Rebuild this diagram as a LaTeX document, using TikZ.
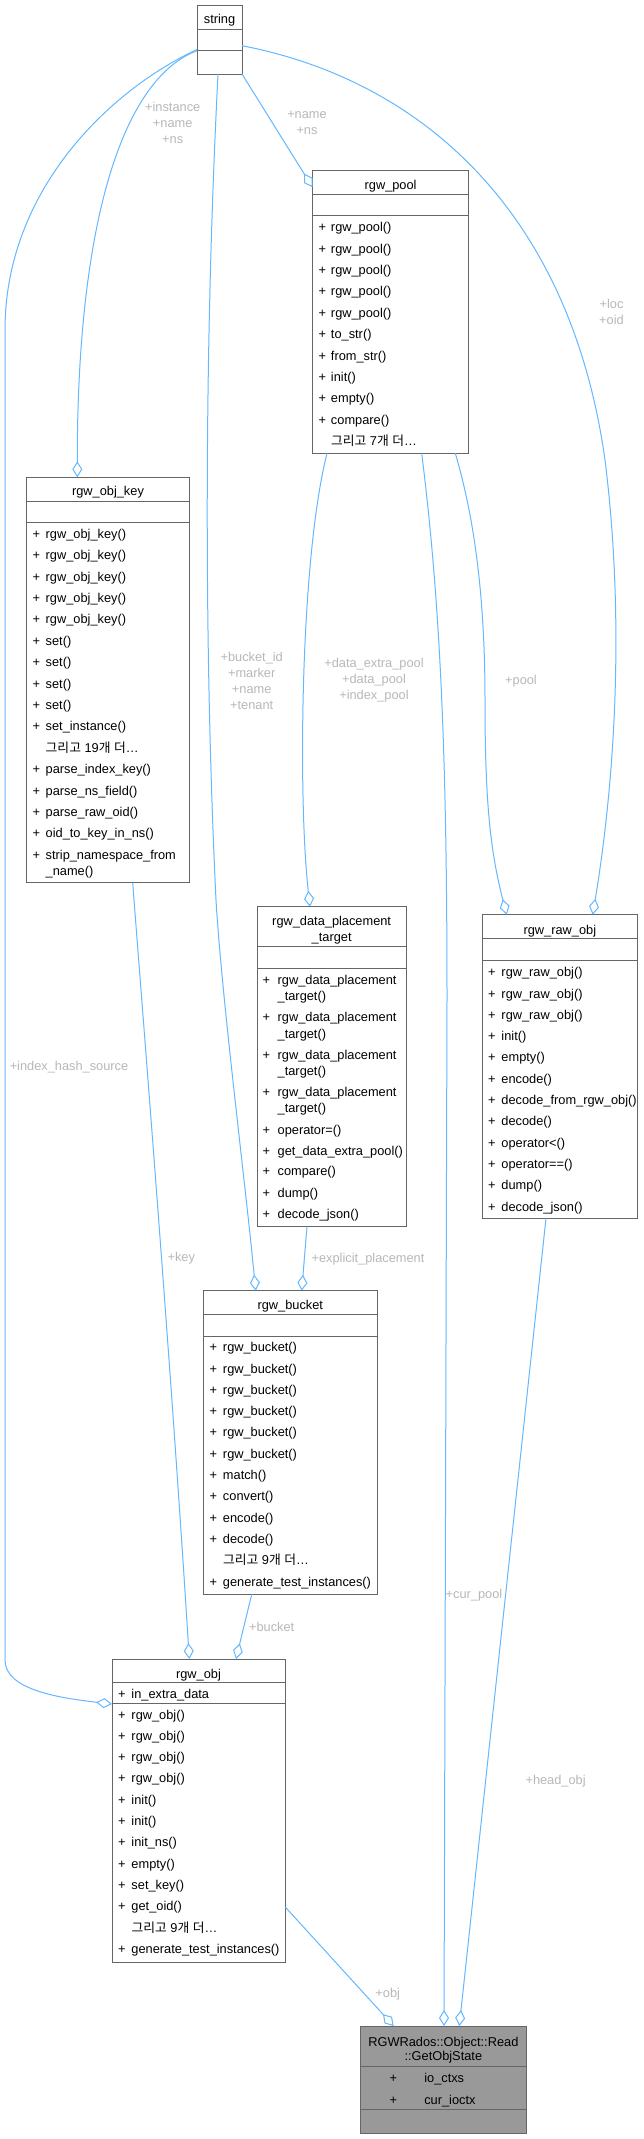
\documentclass[tikz,border=0pt]{standalone}
\usepackage{fontspec}
\setmainfont{Liberation Sans}
\newfontfamily\krfont{Noto Sans CJK KR}
\usetikzlibrary{arrows.meta,calc}
\definecolor{edgeblue}{HTML}{63B8FF}
\definecolor{boxborder}{HTML}{666666}
\definecolor{lblgray}{HTML}{B8B8B8}
\definecolor{hilite}{HTML}{999999}
\newcommand\divline[2]{\draw[divl] ($(#1.north west)+(0,#2)$) -- ($(#1.north east)+(0,#2)$);}
\newcommand\more[1]{{\krfont 그리고} #1{\krfont 개} {\krfont 더}…}
\begin{document}
\begin{tikzpicture}[x=1pt,y=-1pt,
  every node/.style={inner sep=0pt, outer sep=0pt, font=\fontsize{12.8}{16}\selectfont},
  cls/.style={draw=boxborder, line width=1pt, fill=white, rectangle, anchor=north west},
  divl/.style={draw=boxborder, line width=1pt},
  edge/.style={draw=edgeblue, line width=1pt, -{Diamond[open,length=16pt,width=10pt]}},
  lbl/.style={text=lblgray, align=center},
  mem/.style={anchor=base west},
  ttl/.style={anchor=base}]
\fill[white] (0,0) rectangle (643,2139);
\useasboundingbox (0,0) rectangle (643,2139);

% string
\node[cls, minimum width=45pt, minimum height=69pt] (str) at (197,5) {};
\divline{str}{24.3}\divline{str}{45.7}
\node[ttl] (str-t) at ($(str.north)+(0,18.3)$) {string};

% rgw_pool
\node[cls, minimum width=156.2pt, minimum height=282.6pt] (pool) at (312.5,170.7) {};
\divline{pool}{23.6}\divline{pool}{45}
\node[ttl] (pool-t) at ($(pool.north)+(0,18.6)$) {rgw\_pool};
\foreach \t [count=\i from 0] in {rgw\_pool(),rgw\_pool(),rgw\_pool(),rgw\_pool(),rgw\_pool(),to\_str(),from\_str(),init(),empty(),compare()}
  \node[mem] (pool-m\i) at (318.5,231.7+21.4*\i) {\makebox[12.5pt][l]{+}\t};
\node[mem] (pool-more) at (331,445.7) {\more{7}};

% rgw_obj_key
\node[cls, minimum width=162.6pt, minimum height=405.4pt] (key) at (26.7,477.3) {};
\divline{key}{24}\divline{key}{45.4}
\node[ttl] (key-t) at ($(key.north)+(0,18.4)$) {rgw\_obj\_key};
\foreach \t [count=\i from 0] in {rgw\_obj\_key(),rgw\_obj\_key(),rgw\_obj\_key(),rgw\_obj\_key(),rgw\_obj\_key(),set(),set(),set(),set(),set\_instance()}
  \node[mem] (key-m\i) at (32.7,538.3+21.4*\i) {\makebox[13pt][l]{+}\t};
\node[mem] (key-more) at (45.7,752.3) {\more{19}};
\foreach \t [count=\i from 11] in {parse\_index\_key(),parse\_ns\_field(),parse\_raw\_oid(),oid\_to\_key\_in\_ns(),strip\_namespace\_from}
  \node[mem] (key-m\i) at (32.7,538.3+21.4*\i) {\makebox[13pt][l]{+}\t};
\node[mem] (key-m16) at (45.7,875.8) {\_name()};

% rgw_data_placement_target
\node[cls, minimum width=148.7pt, minimum height=320pt] (dpt) at (257.3,906.7) {};
\divline{dpt}{40}\divline{dpt}{61.6}
\node[ttl] (dpt-t1) at ($(dpt.north)+(0,19)$) {rgw\_data\_placement};
\node[ttl] (dpt-t2) at ($(dpt.north)+(0,35)$) {\_target};
\foreach \y [count=\i] in {984,1021.7,1059,1096}{
  \node[mem] (dpt-a\i) at (262.7,\y) {\makebox[15pt][l]{+}rgw\_data\_placement};
  \node[mem] (dpt-b\i) at (277.7,\y+16.7) {\_target()};
}
\foreach \y/\t [count=\i] in {1134.3/operator=(),1155/get\_data\_extra\_pool(),1175.7/compare(),1197/dump(),1218.3/decode\_json()}
  \node[mem] (dpt-m\i) at (262.7,\y) {\makebox[15pt][l]{+}\t};

% rgw_raw_obj
\node[cls, minimum width=155.7pt, minimum height=303.6pt] (raw) at (482,914.7) {};
\divline{raw}{23.6}\divline{raw}{45.3}
\node[ttl] (raw-t) at ($(raw.north)+(0,19.6)$) {rgw\_raw\_obj};
\foreach \t [count=\i from 0] in {rgw\_raw\_obj(),rgw\_raw\_obj(),rgw\_raw\_obj(),init(),empty(),encode(),decode\_from\_rgw\_obj(),decode(),operator<(),operator==(),dump(),decode\_json()}
  \node[mem] (raw-m\i) at (488,976.7+21.3*\i) {\makebox[13.5pt][l]{+}\t};

% rgw_bucket
\node[cls, minimum width=174pt, minimum height=303.6pt] (bucket) at (203.3,1290.7) {};
\divline{bucket}{23.6}\divline{bucket}{45.3}
\node[ttl] (bucket-t) at ($(bucket.north)+(0,18.6)$) {rgw\_bucket};
\foreach \t [count=\i from 0] in {rgw\_bucket(),rgw\_bucket(),rgw\_bucket(),rgw\_bucket(),rgw\_bucket(),rgw\_bucket(),match(),convert(),encode(),decode()}
  \node[mem] (bucket-m\i) at (209.5,1351.7+21.3*\i) {\makebox[13.5pt][l]{+}\t};
\node[mem] (bucket-more) at (223,1564.7) {\more{9}};
\node[mem] (bucket-m11) at (209.5,1586) {\makebox[13.5pt][l]{+}generate\_test\_instances()};

% rgw_obj
\node[cls, minimum width=173pt, minimum height=303.7pt] (obj) at (112,1659) {};
\divline{obj}{23.7}\divline{obj}{44.3}
\node[ttl] (obj-t) at ($(obj.north)+(0,19.3)$) {rgw\_obj};
\node[mem] (obj-a) at (118,1698.3) {\makebox[13.5pt][l]{+}in\_extra\_data};
\foreach \t [count=\i from 0] in {rgw\_obj(),rgw\_obj(),rgw\_obj(),rgw\_obj(),init(),init(),init\_ns(),empty(),set\_key(),get\_oid()}
  \node[mem] (obj-m\i) at (118,1719+21.3*\i) {\makebox[13.5pt][l]{+}\t};
\node[mem] (obj-more) at (131.5,1932) {\more{9}};
\node[mem] (obj-m11) at (118,1953.3) {\makebox[13.5pt][l]{+}generate\_test\_instances()};

% RGWRados::Object::Read::GetObjState
\node[cls, fill=hilite, minimum width=165.3pt, minimum height=107pt] (gos) at (360.7,2026) {};
\divline{gos}{40.7}\divline{gos}{83}
\node[ttl] (gos-t1) at ($(gos.north)+(0,20)$) {RGWRados::Object::Read};
\node[ttl] (gos-t2) at ($(gos.north)+(0,34.7)$) {::GetObjState};
\node[ttl] (gos-p1) at (393.3,2082.7) {+};
\node[mem] (gos-a1) at (424.3,2082.7) {io\_ctxs};
\node[ttl] (gos-p2) at (393.3,2104) {+};
\node[mem] (gos-a2) at (424.3,2104) {cur\_ioctx};

% edges
\draw[edge] ($(str.north west)+(0,45.7)$) .. controls (120,80) and (77,230) .. ($(key.north west)+(50.6,0)$);
\draw[edge] ($(str.north west)+(0,44.5)$) .. controls (110,90) and (5,190) .. (5,330) -- (5,1660) .. controls (5,1690) and (60,1698) .. ($(obj.north west)+(0,45)$);
\draw[edge] ($(str.south west)+(21,0)$) .. controls (204,350) and (204,650) .. (216,900) .. controls (222,1000) and (245,1180) .. ($(bucket.north west)+(52.4,0)$);
\draw[edge] (str.south east) -- ($(pool.north west)+(0,16.5)$);
\draw[edge] ($(str.north east)+(0,40.7)$) .. controls (420,80) and (570,210) .. (605,460) .. controls (625,620) and (615,780) .. ($(raw.north west)+(110.7,0)$);
\draw[edge] ($(pool.south west)+(14.5,0)$) .. controls (300,560) and (298,800) .. ($(dpt.north west)+(52.7,0)$);
\draw[edge] ($(pool.south west)+(109.2,0)$) .. controls (440,600) and (447,750) .. (447,1000) -- ($(gos.north west)+(83.3,0)$);
\draw[edge] ($(pool.south west)+(142.8,0)$) .. controls (475,520) and (485,600) .. (485,700) .. controls (485,800) and (490,850) .. ($(raw.north west)+(24.7,0)$);
\draw[edge] ($(dpt.south west)+(49.7,0)$) -- ($(bucket.north west)+(98.4,0)$);
\draw[edge] ($(key.south west)+(106,0)$) .. controls (140,980) and (170,1350) .. ($(obj.north west)+(77.3,0)$);
\draw[edge] ($(bucket.south west)+(48.4,0)$) -- ($(obj.north west)+(124,0)$);
\draw[edge] ($(raw.south west)+(64,0)$) -- ($(gos.north west)+(98.6,0)$);
\draw[edge] ($(obj.north east)+(0,247.7)$) -- ($(gos.north west)+(33,0)$);

% labels
\node[lbl] (l1) at (172.7,122.6) {+instance\\+name\\+ns};
\node[lbl] (l2) at (307,122.8) {+name\\+ns};
\node[lbl] (l3) at (611.5,312.3) {+loc\\+oid};
\node[lbl] (l4) at (251.7,680.7) {+bucket\_id\\+marker\\+name\\+tenant};
\node[lbl] (l5) at (374,680.3) {+data\_extra\_pool\\+data\_pool\\+index\_pool};
\node[lbl] (l6) at (521,680.7) {+pool};
\node[lbl] (l7) at (69,1066.7) {+index\_hash\_source};
\node[lbl] (l8) at (181.3,1258.3) {+key};
\node[lbl] (l9) at (368,1259) {+explicit\_placement};
\node[lbl] (l10) at (474,1595) {+cur\_pool};
\node[lbl] (l11) at (555.6,1781.5) {+head\_obj};
\node[lbl] (l12) at (271.7,1627) {+bucket};
\node[lbl] (l13) at (387.7,1994.6) {+obj};
\end{tikzpicture}
\end{document}
